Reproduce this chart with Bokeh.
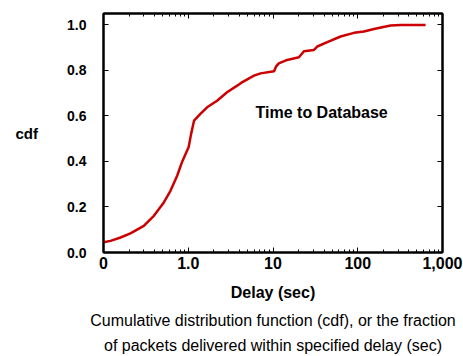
from bokeh.plotting import figure
from bokeh.models import Label, LogAxis, LinearAxis, FixedTicker, Range1d, Title
from bokeh.embed import file_html
from bokeh.resources import INLINE

# ---- data ----
delay = [0.10, 0.121, 0.159, 0.208, 0.299, 0.393, 0.515, 0.617, 0.74, 0.85, 0.95,
         1.01, 1.08, 1.17, 1.39, 1.67, 2.19, 2.87, 3.78, 4.2, 5.96, 7.14, 10.3,
         10.9, 11.7, 14.7, 20.2, 23.2, 30.4, 33.3, 43.7, 62.8, 90.3, 118, 155,
         244, 321, 631]
cdf = [0.045, 0.051, 0.066, 0.084, 0.117, 0.161, 0.220, 0.271, 0.337, 0.400, 0.440,
       0.462, 0.520, 0.579, 0.609, 0.638, 0.667, 0.704, 0.733, 0.745, 0.777, 0.787, 0.796,
       0.818, 0.831, 0.846, 0.858, 0.884, 0.890, 0.905, 0.924, 0.949, 0.965, 0.971, 0.982,
       0.997, 1.0, 1.0]

x_ticks = [0.1, 1, 10, 100, 1000]
x_tick_labels = ["0", "1.0", "10", "100", "1,000"]
x_minor = [m * d for d in (0.1, 1, 10, 100) for m in range(2, 10)]
y_ticks = [0.0, 0.2, 0.4, 0.6, 0.8, 1.0]
y_tick_labels = ["0.0", "0.2", "0.4", "0.6", "0.8", "1.0"]

series_label = "Time to Database"
x_title = "Delay (sec)"
y_title = "cdf"
caption = ["Cumulative distribution function (cdf), or the fraction",
           "of packets delivered within specified delay (sec)"]

FONT = "Liberation Sans"

p = figure(width=463, height=356, x_axis_type="log",
           x_range=Range1d(0.1, 1000), y_range=Range1d(0, 1.05),
           output_backend="svg", toolbar_location=None,
           min_border_left=103, min_border_right=21,
           min_border_top=13, min_border_bottom=104)
p.grid.visible = False
p.background_fill_color = "white"
p.border_fill_color = "white"
p.outline_line_color = "black"
p.outline_line_width = 2

p.line(delay, cdf, line_color="#cc0000", line_width=2.5)

def style_axis(ax, labels=True):
    ax.axis_line_color = "black"
    ax.axis_line_width = 2
    ax.major_tick_in = 5
    ax.major_tick_out = 0
    ax.minor_tick_in = 3
    ax.minor_tick_out = 0
    ax.major_tick_line_width = 1
    ax.minor_tick_line_width = 1
    if labels:
        ax.major_label_text_font = FONT
        ax.major_label_text_font_style = "bold"
        ax.major_label_text_color = "black"
        ax.axis_label_text_font = FONT
        ax.axis_label_text_font_style = "bold"
        ax.axis_label_text_color = "black"
    else:
        ax.major_label_text_font_size = "1px"
        ax.major_label_text_alpha = 0
        ax.major_label_standoff = 0

xa = p.xaxis[0]
xa.ticker = FixedTicker(ticks=x_ticks, minor_ticks=x_minor)
xa.major_label_overrides = dict(zip(x_ticks, x_tick_labels))
style_axis(xa)
xa.major_label_text_font_size = "16px"
xa.major_label_standoff = 4
xa.axis_label = x_title
xa.axis_label_text_font_size = "16px"
xa.axis_label_standoff = 12

ya = p.yaxis[0]
ya.ticker = FixedTicker(ticks=y_ticks)
ya.major_label_overrides = dict(zip(y_ticks, y_tick_labels))
style_axis(ya)
ya.major_label_text_font_size = "14px"
ya.major_label_standoff = 17
ya.minor_tick_in = 0
ya.axis_label = y_title
ya.axis_label_text_font_size = "15px"
ya.axis_label_orientation = "horizontal"
ya.axis_label_standoff = 26

top = LogAxis(ticker=FixedTicker(ticks=x_ticks, minor_ticks=x_minor))
style_axis(top, labels=False)
p.add_layout(top, "above")
right = LinearAxis(ticker=FixedTicker(ticks=y_ticks))
style_axis(right, labels=False)
right.minor_tick_in = 0
p.add_layout(right, "right")

p.add_layout(Label(x=37.5, y=0.614, text=series_label, text_align="center",
                   text_baseline="middle", text_font=FONT, text_font_style="bold",
                   text_font_size="16px", text_color="black"))

for i, line in enumerate(caption):
    p.add_layout(Title(text=line, align="center", text_font=FONT,
                       text_font_style="normal", text_font_size="16px",
                       text_color="black", standoff=12 if i == 0 else 0), "below")

open("out.html", "w").write(file_html(p, INLINE))
